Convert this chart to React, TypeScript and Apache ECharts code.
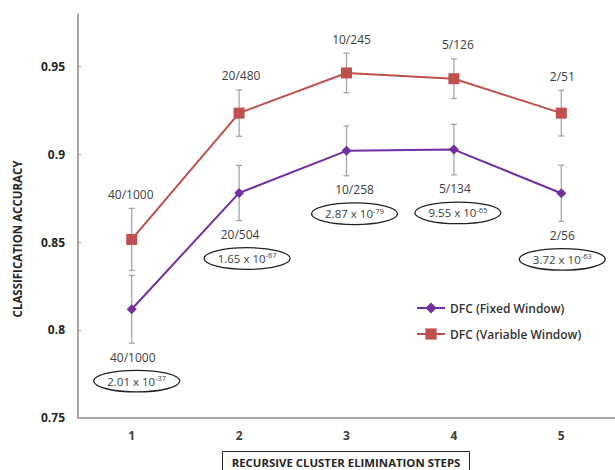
import React, { useEffect, useRef } from "react";
import * as echarts from "echarts";

const categories = ["1", "2", "3", "4", "5"];
const fixedMean = [0.8117, 0.878, 0.902, 0.9027, 0.8778];
const fixedErr = [0.0193, 0.0157, 0.0142, 0.0144, 0.016];
const variableMean = [0.8515, 0.9235, 0.9464, 0.9431, 0.9235];
const variableErr = [0.0177, 0.0132, 0.0113, 0.0113, 0.013];
const yTicks = [0.75, 0.8, 0.85, 0.9, 0.95];
const variableLabels = ["40/1000", "20/480", "10/245", "5/126", "2/51"];
const fixedLabels = ["40/1000", "20/504", "10/258", "5/134", "2/56"];
const pMantissa = ["2.01", "1.65", "2.87", "9.55", "3.72"];
const pExponent = ["-37", "-67", "-79", "-65", "-63"];
const xTitle = "RECURSIVE CLUSTER ELIMINATION STEPS";
const yTitle = "CLASSIFICATION ACCURACY";

// layout nudges (pixels) for annotation labels
const redDx = [-1, 2, 5, 4, 1];
const purpleDx = [1, 1, 8, 1, 1];
const ellipseDx = [5, 8, 8, 4, 1];

const FONT = "Open Sans";
const RED = "#c0504d";
const PURPLE = "#7030a0";
const GRAY = "#a6a6a6";
const TEXT = "#404040";

export default function App() {
  const ref = useRef<HTMLDivElement>(null);
  useEffect(() => {
    document.body.style.margin = "0";
    const chart = echarts.init(ref.current!, null, { renderer: "svg" });

    const errData = (mean: number[], err: number[]) =>
      mean.map((m, i) => [i, m - err[i], m + err[i]]);

    const errRender = (params: any, api: any) => {
      const x = api.value(0);
      const lo = api.coord([x, api.value(1)]);
      const hi = api.coord([x, api.value(2)]);
      const w = 3;
      const style = { stroke: GRAY, lineWidth: 1.3 };
      return {
        type: "group",
        children: [
          { type: "line", shape: { x1: lo[0], y1: lo[1], x2: hi[0], y2: hi[1] }, style },
          { type: "line", shape: { x1: lo[0] - w, y1: lo[1], x2: lo[0] + w, y2: lo[1] }, style },
          { type: "line", shape: { x1: hi[0] - w, y1: hi[1], x2: hi[0] + w, y2: hi[1] }, style },
        ],
      };
    };

    const redLabelRender = (params: any, api: any) => {
      const i = params.dataIndex;
      const x = api.value(0);
      const hi = api.coord([x, api.value(1)]);
      return {
        type: "text",
        x: hi[0] + redDx[i],
        y: hi[1] - 14,
        style: {
          text: variableLabels[i],
          fontFamily: FONT,
          fontSize: 12,
          fill: TEXT,
          align: "center",
          verticalAlign: "middle",
        },
      };
    };

    const purpleLabelRender = (params: any, api: any) => {
      const i = params.dataIndex;
      const x = api.value(0);
      const lo = api.coord([x, api.value(1)]);
      const ly = lo[1] + 14;
      const ey = ly + 24;
      const ex = lo[0] + ellipseDx[i];
      return {
        type: "group",
        children: [
          {
            type: "text",
            x: lo[0] + purpleDx[i],
            y: ly,
            style: {
              text: fixedLabels[i],
              fontFamily: FONT,
              fontSize: 12,
              fill: TEXT,
              align: "center",
              verticalAlign: "middle",
            },
          },
          {
            type: "ellipse",
            shape: { cx: ex, cy: ey, rx: 43, ry: 10.8 },
            style: { fill: "#ffffff", stroke: "#222222", lineWidth: 1.3 },
          },
          {
            type: "text",
            x: ex,
            y: ey,
            style: {
              text: `{b|${pMantissa[i]} x 10}{s|${pExponent[i]}}`,
              align: "center",
              verticalAlign: "middle",
              rich: {
                b: { fontFamily: FONT, fontSize: 11.5, fill: TEXT, lineHeight: 14 },
                s: { fontFamily: FONT, fontSize: 7.5, fill: TEXT, lineHeight: 9, verticalAlign: "top" },
              },
            },
          },
        ],
      };
    };

    chart.setOption({
      animation: false,
      backgroundColor: "#ffffff",
      grid: { left: 78, right: 0, top: 14, bottom: 52.5, containLabel: false, outerBoundsMode: "none" },
      legend: {
        orient: "vertical",
        left: 411,
        top: 297,
        itemWidth: 28,
        itemHeight: 14,
        itemGap: 14,
        textStyle: { fontFamily: FONT, fontSize: 12, color: "#333333", fontWeight: 600 },
        data: ["DFC (Fixed Window)", "DFC (Variable Window)"],
      },
      graphic: [
        {
          type: "text",
          x: 17,
          y: 239,
          rotation: Math.PI / 2,
          style: {
            text: yTitle,
            fontFamily: FONT,
            fontSize: 11.5,
            fontWeight: "bold",
            fill: "#262626",
            align: "center",
            verticalAlign: "middle",
          },
        },
        {
          type: "text",
          x: 346,
          y: 462.5,
          style: {
            text: xTitle,
            fontFamily: FONT,
            fontSize: 11.4,
            fontWeight: "bold",
            fill: "#262626",
            align: "center",
            verticalAlign: "middle",
          },
        },
        {
          type: "rect",
          shape: { x: 222.5, y: 451.5, width: 247, height: 25 },
          style: { fill: "none", stroke: "#262626", lineWidth: 1 },
        },
      ],
      xAxis: {
        type: "category",
        data: categories,
        boundaryGap: true,
        axisLine: { lineStyle: { color: GRAY, width: 2 } },
        axisTick: { show: false },
        axisLabel: {
          fontFamily: FONT,
          fontSize: 12,
          fontWeight: "bold",
          color: TEXT,
          margin: 12,
        },
      },
      yAxis: {
        type: "value",
        min: 0.75,
        max: 0.98,
        interval: 0.05,
        splitLine: { show: false },
        axisLine: { show: true, lineStyle: { color: GRAY, width: 2 } },
        axisTick: {
          show: true,
          inside: true,
          length: 3,
          lineStyle: { color: GRAY, width: 1 },
          customValues: yTicks,
        },
        axisLabel: {
          fontFamily: FONT,
          fontSize: 12,
          fontWeight: "bold",
          color: "#262626",
          margin: 13,
          customValues: yTicks,
        },
      },
      series: [
        {
          type: "custom",
          name: "errFixed",
          renderItem: errRender,
          data: errData(fixedMean, fixedErr),
          encode: { x: 0, y: [1, 2] },
          z: 1,
          clip: false,
        },
        {
          type: "custom",
          name: "errVar",
          renderItem: errRender,
          data: errData(variableMean, variableErr),
          encode: { x: 0, y: [1, 2] },
          z: 1,
          clip: false,
        },
        {
          type: "line",
          name: "DFC (Fixed Window)",
          data: fixedMean,
          symbol: "diamond",
          symbolSize: 10,
          lineStyle: { color: PURPLE, width: 2 },
          itemStyle: { color: PURPLE },
          z: 3,
        },
        {
          type: "line",
          name: "DFC (Variable Window)",
          data: variableMean,
          symbol: "rect",
          symbolSize: 11,
          lineStyle: { color: RED, width: 2 },
          itemStyle: { color: RED },
          z: 4,
        },
        {
          type: "custom",
          name: "varLabels",
          renderItem: redLabelRender,
          data: variableMean.map((m, i) => [i, m + variableErr[i]]),
          encode: { x: 0, y: 1 },
          z: 5,
          clip: false,
        },
        {
          type: "custom",
          name: "fixedLabels",
          renderItem: purpleLabelRender,
          data: fixedMean.map((m, i) => [i, m - fixedErr[i]]),
          encode: { x: 0, y: 1 },
          z: 5,
          clip: false,
        },
      ],
    });
    return () => chart.dispose();
  }, []);
  return <div ref={ref} style={{ width: 615, height: 470 }} />;
}
